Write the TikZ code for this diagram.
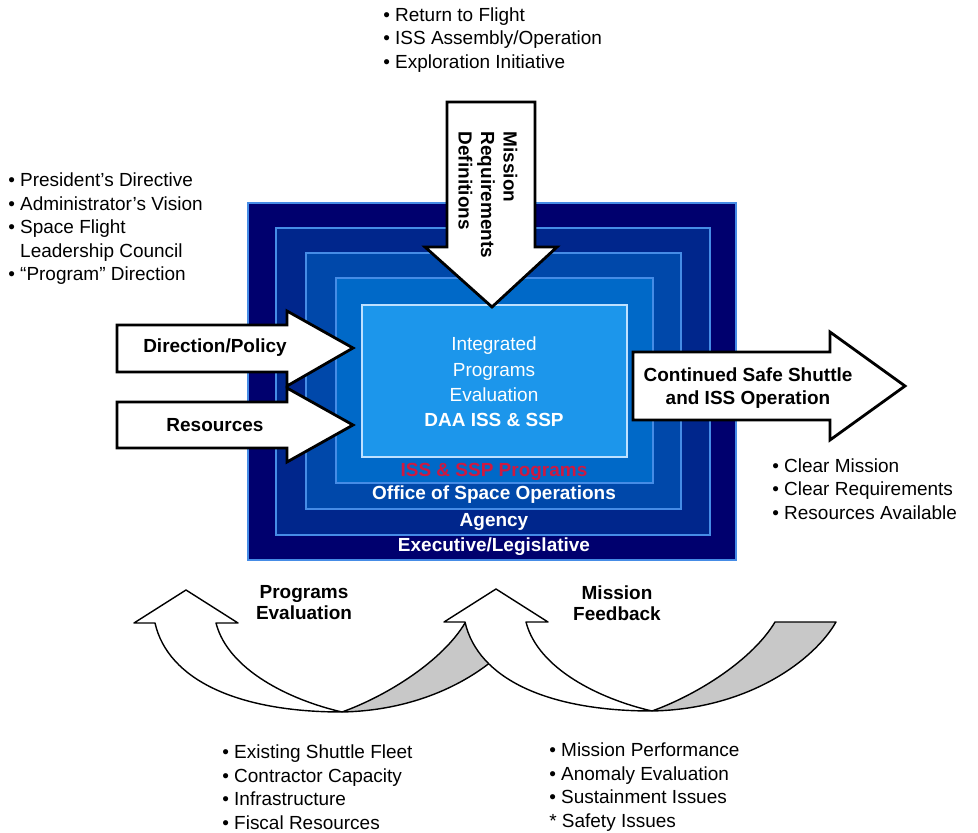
\documentclass[tikz,border=0pt]{standalone}
\usepackage{fontspec}
\setmainfont{Liberation Sans}
\usepackage{xcolor}
\usetikzlibrary{positioning}
\definecolor{layerA}{RGB}{0,0,110}
\definecolor{layerB}{RGB}{0,38,140}
\definecolor{layerC}{RGB}{0,72,170}
\definecolor{layerD}{RGB}{0,105,200}
\definecolor{layerE}{RGB}{28,150,235}
\definecolor{edgeblue}{RGB}{70,140,230}
\definecolor{innerline}{RGB}{190,225,255}
\definecolor{progred}{RGB}{205,25,65}
\definecolor{shadegrey}{RGB}{200,200,200}

\begin{document}
\begin{tikzpicture}[x=0.025cm, y=-0.025cm,
    layer/.style={draw=edgeblue, line width=0.8pt},
    blockarrow/.style={draw=black, fill=white, line width=2pt, line join=miter},
    curvearrow/.style={draw=black, fill=white, line width=1pt, line join=round},
    backside/.style={draw=black, fill=shadegrey, line width=1pt, line join=round},
    lst/.style={font=\fontsize{13.5}{16.7}\selectfont, align=left, anchor=west, inner sep=0pt},
    lbl/.style={font=\fontsize{13.5}{16.4}\selectfont\bfseries, align=center, inner sep=0pt},
    ring/.style={font=\fontsize{13.5}{16}\selectfont\bfseries, text=white, inner sep=0pt}
]
\useasboundingbox (0,0) rectangle (978,833);

% nested organisation layers
\draw[layer, fill=layerA] (248,203) rectangle (736,560);
\draw[layer, fill=layerB] (276,228) rectangle (710,535);
\draw[layer, fill=layerC] (306,253) rectangle (681,509);
\draw[layer, fill=layerD] (336,278) rectangle (653,483);
\draw[draw=innerline, line width=1pt, fill=layerE] (362,305) rectangle (627,457);

\node[font=\fontsize{13.5}{18}\selectfont, text=white, align=center, inner sep=0pt] (core) at (494,382)
    {Integrated\\Programs\\Evaluation\\\textbf{DAA ISS \& SSP}};
\node[ring, text=progred] (progs) at (494,472) {ISS \& SSP Programs};
\node[ring] (osops) at (494,495) {Office of Space Operations};
\node[ring] (agency) at (494,522) {Agency};
\node[ring] (execleg) at (494,547) {Executive/Legislative};

% block arrows
\draw[blockarrow] (447,102) -- (535,102) -- (535,247) -- (557,247) -- (492,307) -- (425,247) -- (447,247) -- cycle;
\node[lbl, rotate=-90, align=left, font=\fontsize{13.5}{16}\selectfont\bfseries] (mrd) at (488,195)
    {Mission\\Requirements\\Definitions};

\draw[blockarrow] (117,402) -- (287,402) -- (287,388) -- (353,425) -- (287,462) -- (287,448) -- (117,448) -- cycle;
\node[lbl] (res) at (215,425) {Resources};
\draw[blockarrow] (117,325) -- (287,325) -- (287,311) -- (353,348) -- (287,386) -- (287,372) -- (117,372) -- cycle;
\node[lbl] (dirpol) at (215,348) {Direction/Policy};

\draw[blockarrow] (633,352) -- (830,352) -- (830,332) -- (905,386) -- (830,440) -- (830,420) -- (633,420) -- cycle;
\node[lbl] (safeops) at (748,388) {Continued Safe Shuttle\\and ISS Operation};

% feedback loops
\foreach \dx/\dy in {0/0, 310/-1} {
  \begin{scope}[shift={(\dx,\dy)}]
    \draw[backside] (342,712) .. controls (389,695) and (443,660) .. (465,623) -- (526,623)
        .. controls (505,660) and (440,710) .. (342,712) -- cycle;
    \draw[curvearrow] (155,623) .. controls (168,680) and (238,712) .. (342,712)
        .. controls (290,700) and (228,670) .. (216,623) -- (238,623) -- (186,590) -- (134,623) -- cycle;
  \end{scope}
}
\node[lbl, font=\fontsize{13.5}{15}\selectfont\bfseries] (progeval) at (304,603) {Programs\\Evaluation};
\node[lbl, font=\fontsize{13.5}{15}\selectfont\bfseries] (missfb) at (617,603) {Mission\\Feedback};

% bullet lists
\node[lst] (flightlist) at (383,40) {• Return to Flight\\• ISS Assembly/Operation\\• Exploration Initiative};
\node[lst] (leadlist) at (8,229) {• President’s Directive\\• Administrator’s Vision\\• Space Flight\\\phantom{• }Leadership Council\\• “Program” Direction};
\node[lst] (outlist) at (772,489) {• Clear Mission\\• Clear Requirements\\• Resources Available};
\node[lst] (fleetlist) at (222,787) {• Existing Shuttle Fleet\\• Contractor Capacity\\• Infrastructure\\• Fiscal Resources};
\node[lst] (perflist) at (549,787) {• Mission Performance\\• Anomaly Evaluation\\• Sustainment Issues\\* Safety Issues};
\end{tikzpicture}
\end{document}
